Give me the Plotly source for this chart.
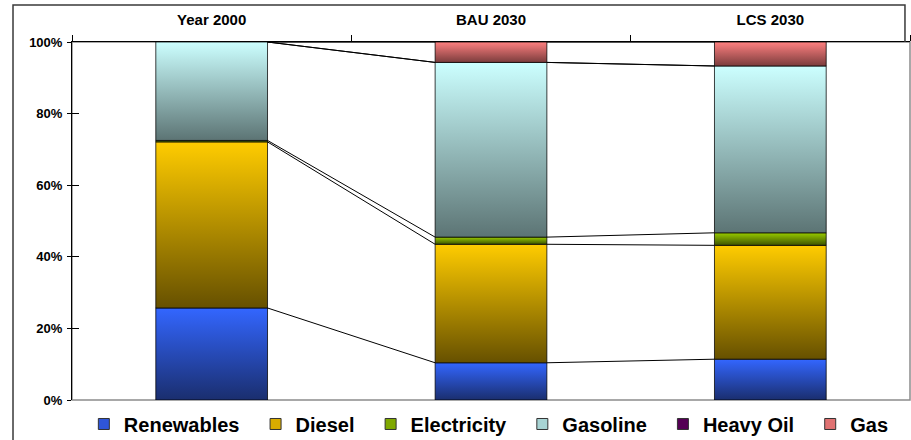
import plotly.graph_objects as go

# Fuel shares of transport energy demand (%)
scenarios = ["Year 2000", "BAU 2030", "LCS 2030"]
fuels = ["Renewables", "Diesel", "Electricity", "Gasoline", "Heavy Oil", "Gas"]
renewables = [25.7, 10.4, 11.4]
diesel = [46.4, 33.1, 31.8]
electricity = [0.4, 2.0, 3.5]
gasoline = [27.5, 48.8, 46.6]
heavy_oil = [0.0, 0.0, 0.0]
gas = [0.0, 5.7, 6.7]
y_ticks = [0, 20, 40, 60, 80, 100]
y_tick_labels = ["0%", "20%", "40%", "60%", "80%", "100%"]

series = [renewables, diesel, electricity, gasoline, heavy_oil, gas]

# (top colour, bottom colour, legend key colour) for each fuel
palette = [
    ("#3366FF", "#1A2E6E", "#2F55D8"),
    ("#FFCC00", "#665000", "#D9AC00"),
    ("#99CC00", "#3D5200", "#7FA800"),
    ("#CCFFFF", "#5C7474", "#A8D4D4"),
    ("#660066", "#33003A", "#550055"),
    ("#FF8080", "#7A3C3C", "#E07272"),
]

HALF = 0.2  # half bar width in category units
FONT = "Arial, Liberation Sans, sans-serif"
PAD = "\u00a0\u00a0"  # extra room after each legend label

fig = go.Figure()

# cumulative bottoms/tops of each stacked segment
bottoms, tops = [], []
running = [0.0] * len(scenarios)
for vals in series:
    bottoms.append(list(running))
    running = [r + v for r, v in zip(running, vals)]
    tops.append(list(running))

# stacked segments with a vertical light-to-dark gradient
for k, name in enumerate(fuels):
    light, dark, key = palette[k]
    for i in range(len(scenarios)):
        b, t = bottoms[k][i], tops[k][i]
        if t - b <= 0:
            continue
        fig.add_trace(go.Scatter(
            x=[i - HALF, i + HALF, i + HALF, i - HALF, i - HALF],
            y=[b, b, t, t, b],
            mode="lines",
            fill="toself",
            fillgradient=dict(type="vertical", start=b, stop=t,
                              colorscale=[[0, dark], [1, light]]),
            line=dict(color="rgba(0,0,0,0.75)", width=1),
            name=name, legendgroup=name, showlegend=False,
            hoverinfo="text",
            text=f"{name} – {scenarios[i]}: {series[k][i]:.1f}%",
        ))

# series lines joining the top of each fuel from one bar to the next
for k, name in enumerate(fuels):
    xs, ys = [], []
    for i in range(len(scenarios) - 1):
        xs += [i + HALF, i + 1 - HALF, None]
        ys += [tops[k][i], tops[k][i + 1], None]
    fig.add_trace(go.Scatter(x=xs, y=ys, mode="lines",
                             line=dict(color="black", width=1),
                             showlegend=False, hoverinfo="skip"))

# legend keys
for k, name in enumerate(fuels):
    fig.add_trace(go.Scatter(
        x=[None], y=[None], mode="markers", name=name + PAD, legendgroup=name,
        marker=dict(symbol="square", size=11, color=palette[k][2],
                    line=dict(color="#333333", width=1)),
    ))

# dummy trace so the secondary y axis (cross ticks) is drawn
fig.add_trace(go.Scatter(x=[None], y=[None], yaxis="y2", showlegend=False,
                         hoverinfo="skip"))

fig.update_layout(
    width=911, height=440,
    margin=dict(l=72, r=1, t=42, b=40, autoexpand=False),
    paper_bgcolor="white", plot_bgcolor="white",
    font=dict(family=FONT, color="black", weight="bold"),
    showlegend=True,
    legend=dict(orientation="h", x=0.504, xanchor="center",
                y=-0.067, yanchor="middle",
                font=dict(size=20, family=FONT, weight="bold"),
                itemwidth=30, tracegroupgap=0, bgcolor="rgba(0,0,0,0)"),
    xaxis=dict(
        range=[-0.5, 2.5], side="top",
        tickvals=list(range(len(scenarios))), ticktext=scenarios,
        ticks="", tickfont=dict(size=15, family=FONT, weight="bold"),
        showgrid=False, zeroline=False,
        showline=True, linecolor="black", linewidth=1,
        minor=dict(tickvals=[-0.5, 0.5, 1.5, 2.5], ticks="outside",
                   ticklen=6, tickcolor="black", tickwidth=1, showgrid=False),
        ticklabelstandoff=10,
    ),
    yaxis=dict(
        range=[0, 100], tickvals=y_ticks, ticktext=y_tick_labels,
        ticks="outside", ticklen=4, tickcolor="black",
        tickfont=dict(size=13, family=FONT, weight="bold"),
        showgrid=False, zeroline=False,
        showline=True, linecolor="black", linewidth=1,
        ticklabelstandoff=2,
    ),
    yaxis2=dict(
        range=[0, 100], overlaying="y", side="left",
        tickvals=y_ticks, ticks="inside", ticklen=7, tickcolor="black",
        showticklabels=False, showgrid=False, zeroline=False, showline=False,
    ),
    shapes=[
        # plot area border (bottom and right sides show grey)
        dict(type="rect", xref="paper", yref="paper", x0=0, y0=0, x1=1, y1=1,
             line=dict(color="#8C8C8C", width=1.5), layer="below"),
        # chart area frame
        dict(type="path", xref="paper", yref="paper",
             path="M -0.0704,-0.13 L -0.0704,1.1034 L 0.994,1.1034 L 0.994,1.0",
             line=dict(color="#3A3A3A", width=1.5)),
    ],
)

fig.write_html("out.html")
